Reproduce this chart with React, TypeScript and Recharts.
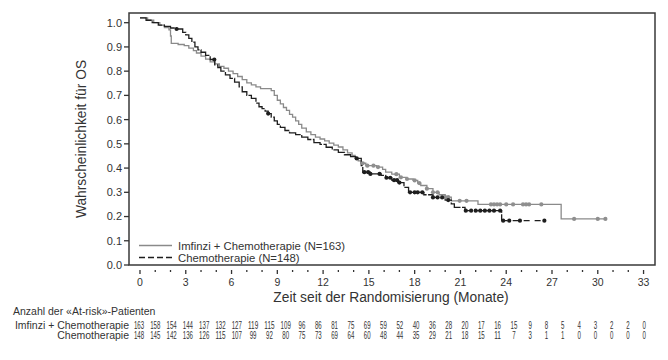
import React from "react";
import { ComposedChart, Line, Scatter, XAxis, YAxis, ReferenceArea } from "recharts";

// Kaplan-Meier steps (months, survival after the step)
const imfinziMonths = [
  0, 0.5, 0.9, 1.3, 1.6, 1.9, 2.0, 2.05, 2.5, 2.9, 3.2, 3.5, 3.7, 4.0, 4.3, 4.6, 4.9, 5.2, 5.5,
  5.8, 6.1, 6.4, 6.7, 7.0, 7.3, 7.6, 7.9, 8.6, 8.8, 9.0, 9.2, 9.4, 9.6, 9.8, 10.0, 10.2, 10.4,
  10.6, 10.9, 11.2, 11.5, 11.8, 12.1, 12.4, 12.7, 13.0, 13.3, 13.6, 13.9, 14.1, 14.3, 14.5, 14.8,
  15.5, 15.9, 16.1, 16.5, 17.0, 17.5, 17.9, 18.2, 18.4, 18.8, 19.2, 19.6, 20.0, 20.4, 22.15,
  27.6, 30.56,
];
const imfinziSurvival = [
  1.02, 1.01, 1.0, 0.99, 0.98, 0.97, 0.945, 0.915, 0.91, 0.905, 0.895, 0.885, 0.875, 0.862,
  0.85, 0.838, 0.83, 0.82, 0.812, 0.8, 0.79, 0.778, 0.765, 0.752, 0.743, 0.735, 0.728, 0.72,
  0.7, 0.68, 0.665, 0.65, 0.638, 0.622, 0.61, 0.595, 0.58, 0.565, 0.549, 0.538, 0.528, 0.52,
  0.512, 0.503, 0.495, 0.487, 0.475, 0.463, 0.452, 0.44, 0.43, 0.42, 0.41, 0.404, 0.395, 0.383,
  0.375, 0.362, 0.355, 0.349, 0.338, 0.328, 0.315, 0.3, 0.29, 0.28, 0.265, 0.25, 0.19, 0.19,
];
const imfinziCensored = [
  14.6, 14.9, 15.3, 15.6, 16.8, 17.1, 17.5, 18.0, 18.3, 18.8, 19.2, 19.5, 20.0, 20.2, 20.95,
  21.4, 23.0, 23.2, 23.4, 23.6, 24.0, 24.45, 25.1, 25.3, 25.5, 26.3, 28.45, 30.0, 30.5,
];

const chemoMonths = [
  0, 0.4, 0.8, 1.2, 1.6, 2.0, 2.4, 2.8, 3.0, 3.2, 3.4, 3.6, 3.8, 4.0, 4.3, 4.6, 4.9, 5.1, 5.3,
  5.6, 5.9, 6.2, 6.5, 6.7, 7.0, 7.3, 7.6, 7.8, 8.0, 8.2, 8.4, 8.6, 8.8, 9.0, 9.2, 9.5, 9.8,
  10.2, 10.6, 11.0, 11.4, 11.8, 12.2, 12.6, 13.0, 13.4, 13.8, 14.2, 14.5, 14.6, 15.1, 15.8,
  16.1, 16.5, 16.9, 17.3, 17.6, 18.6, 19.2, 20.0, 20.4, 20.6, 21.3, 23.7, 26.6,
];
const chemoSurvival = [
  1.02, 1.01, 1.0, 0.99, 0.985, 0.978, 0.974, 0.96, 0.95, 0.935, 0.92, 0.9, 0.888, 0.878,
  0.865, 0.848, 0.826, 0.815, 0.8, 0.785, 0.77, 0.755, 0.735, 0.715, 0.7, 0.688, 0.668, 0.653,
  0.645, 0.635, 0.625, 0.61, 0.595, 0.58, 0.568, 0.555, 0.545, 0.538, 0.528, 0.518, 0.505,
  0.498, 0.486, 0.475, 0.465, 0.455, 0.447, 0.44, 0.41, 0.383, 0.376, 0.37, 0.36, 0.35, 0.34,
  0.32, 0.3, 0.29, 0.279, 0.268, 0.252, 0.238, 0.224, 0.183, 0.183,
];
const chemoCensored = [
  2.4, 4.87, 8.4, 14.2, 14.7, 14.95, 15.1, 15.7, 16.15, 16.4, 16.65, 16.85, 17.0, 17.7, 18.0,
  18.2, 18.5, 19.2, 19.5, 19.8, 20.2, 21.35, 21.7, 22.0, 22.3, 22.6, 22.9, 23.2, 23.6, 23.8,
  24.2, 24.9, 26.5,
];

const xTicks = [
  0, 1, 2, 3, 4, 5, 6, 7, 8, 9, 10, 11, 12, 13, 14, 15, 16, 17, 18, 19, 20, 21, 22, 23, 24, 25,
  26, 27, 28, 29, 30, 31, 32, 33,
];
const yTicks = [0, 0.1, 0.2, 0.3, 0.4, 0.5, 0.6, 0.7, 0.8, 0.9, 1.0];

const atRiskImfinzi = [
  163, 158, 154, 144, 137, 132, 127, 119, 115, 109, 96, 86, 81, 75, 69, 59, 52, 40, 36, 28, 20,
  17, 16, 15, 9, 8, 5, 4, 3, 2, 2, 0,
];
const atRiskChemo = [
  148, 145, 142, 136, 126, 115, 107, 99, 92, 80, 75, 73, 69, 64, 60, 48, 44, 35, 29, 21, 18, 15,
  11, 7, 3, 1, 1, 0, 0, 0, 0, 0,
];

const FONT = "'Liberation Sans', Arial, sans-serif";
const INK = "#333";
const GRAY = "#8a8a8a";
const BLACK = "#1e1e1e";

function toSteps(months: number[], surv: number[]) {
  return months.map((t, i) => ({ t, s: surv[i] }));
}

function survivalAt(months: number[], surv: number[], t: number) {
  let s = surv[0];
  for (let i = 0; i < months.length; i++) {
    if (months[i] <= t) s = surv[i];
  }
  return s;
}

const imfinziData = toSteps(imfinziMonths, imfinziSurvival);
const chemoData = toSteps(chemoMonths, chemoSurvival);
// the chemo curve looks solid while the steps are dense; only its flat tail shows the dashes
const chemoTailStart = 23.7;
const chemoBody = chemoData.filter((d) => d.t <= chemoTailStart);
const chemoTail = chemoData.filter((d) => d.t >= chemoTailStart);

const imfinziMarks = imfinziCensored.map((t) => ({
  t,
  s: survivalAt(imfinziMonths, imfinziSurvival, t),
}));
const chemoMarks = chemoCensored.map((t) => ({
  t,
  s: survivalAt(chemoMonths, chemoSurvival, t),
}));

function XTick(props: any) {
  const { x, y, payload } = props;
  const major = payload.value % 3 === 0;
  return (
    <g>
      <line
        x1={x}
        x2={x}
        y1={y + 5}
        y2={major ? y + 9 : y + 7}
        stroke={INK}
        strokeWidth={1.3}
      />
      {major && (
        <text x={x} y={y + 21} textAnchor="middle" fontSize={10.5} fill={INK} fontFamily={FONT}>
          {payload.value}
        </text>
      )}
    </g>
  );
}

function mark(fill: string) {
  return (p: any) => <circle cx={p.cx} cy={p.cy} r={2.1} fill={fill} />;
}

export default function App() {
  const colX = (i: number) => 139 + i * 16.3;
  return (
    <div
      style={{
        position: "absolute",
        left: 0,
        top: 0,
        width: 668,
        height: 360,
        background: "#fff",
        fontFamily: FONT,
      }}
    >
      <ComposedChart
        width={668}
        height={360}
        margin={{ top: 13, right: 13, left: 0, bottom: 55 }}
      >
        <XAxis
          type="number"
          dataKey="t"
          domain={[-0.72, 33.75]}
          ticks={xTicks}
          interval={0}
          allowDataOverflow
          axisLine={false}
          tickLine={false}
          tickSize={0}
          tickMargin={0}
          height={40}
          tick={<XTick />}
        />
        <YAxis
          type="number"
          domain={[0, 1.04]}
          ticks={yTicks}
          allowDataOverflow
          width={129}
          axisLine={false}
          tickSize={5}
          tickMargin={2}
          tickLine={{ stroke: INK, strokeWidth: 1.3 }}
          tick={{ fontSize: 11, fill: INK, fontFamily: FONT }}
          tickFormatter={(v: number) => v.toFixed(1)}
        />
        <ReferenceArea
          x1={-0.72}
          x2={33.75}
          y1={0}
          y2={1.04}
          fill="none"
          stroke="#3a3a3a"
          strokeWidth={1.5}
          ifOverflow="visible"
        />
        <Line
          data={imfinziData}
          dataKey="s"
          type="stepAfter"
          stroke={GRAY}
          strokeWidth={1.3}
          dot={false}
          isAnimationActive={false}
        />
        <Line
          data={chemoBody}
          dataKey="s"
          type="stepAfter"
          stroke={BLACK}
          strokeWidth={1.3}
          strokeDasharray="14 1.5"
          dot={false}
          isAnimationActive={false}
        />
        <Line
          data={chemoTail}
          dataKey="s"
          type="stepAfter"
          stroke={BLACK}
          strokeWidth={1.3}
          strokeDasharray="6 5"
          dot={false}
          isAnimationActive={false}
        />
        <Scatter data={imfinziMarks} dataKey="s" shape={mark("#8f8f8f")} isAnimationActive={false} />
        <Scatter data={chemoMarks} dataKey="s" shape={mark(BLACK)} isAnimationActive={false} />
      </ComposedChart>

      <svg
        width={668}
        height={360}
        style={{ position: "absolute", left: 0, top: 0, pointerEvents: "none" }}
        fontFamily={FONT}
      >
        <text
          x={0}
          y={0}
          transform="translate(86,139) rotate(-90)"
          textAnchor="middle"
          fontSize={13.8}
          fill={INK}
        >
          Wahrscheinlichkeit für OS
        </text>
        <text x={391} y={302} textAnchor="middle" fontSize={13.8} fill={INK}>
          Zeit seit der Randomisierung (Monate)
        </text>

        <line x1={139} x2={172} y1={245.5} y2={245.5} stroke={GRAY} strokeWidth={1.3} />
        <line
          x1={139}
          x2={172}
          y1={257.5}
          y2={257.5}
          stroke={BLACK}
          strokeWidth={1.3}
          strokeDasharray="6 3"
        />
        <text x={178} y={249.5} fontSize={11.3} fill={INK}>
          Imfinzi + Chemotherapie (N=163)
        </text>
        <text x={178} y={261.5} fontSize={11.3} fill={INK}>
          Chemotherapie (N=148)
        </text>

        <text x={13} y={314.5} fontSize={10.5} fill={INK}>
          Anzahl der «At-risk»-Patienten
        </text>
        <text x={129} y={328.5} fontSize={10.5} fill={INK} textAnchor="end">
          Imfinzi + Chemotherapie
        </text>
        <text x={129} y={339} fontSize={10.5} fill={INK} textAnchor="end">
          Chemotherapie
        </text>
        {atRiskImfinzi.map((n, i) => (
          <text
            key={"a" + i}
            x={colX(i)}
            y={328.5}
            fontSize={10.5}
            fill={INK}
            textAnchor="middle"
            textLength={String(n).length * 3.4}
            lengthAdjust="spacingAndGlyphs"
          >
            {n}
          </text>
        ))}
        {atRiskChemo.map((n, i) => (
          <text
            key={"b" + i}
            x={colX(i)}
            y={339}
            fontSize={10.5}
            fill={INK}
            textAnchor="middle"
            textLength={String(n).length * 3.4}
            lengthAdjust="spacingAndGlyphs"
          >
            {n}
          </text>
        ))}
      </svg>
    </div>
  );
}
